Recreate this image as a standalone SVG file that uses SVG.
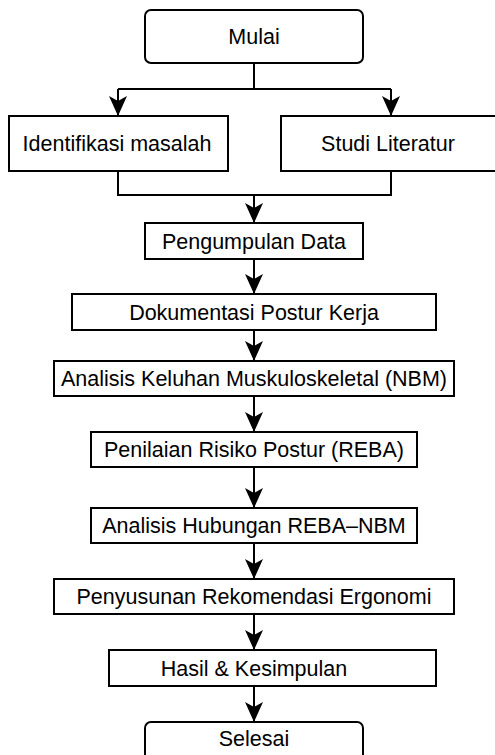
<svg xmlns="http://www.w3.org/2000/svg" width="495" height="755" viewBox="0 0 495 755">
<defs>
<marker id="arr" markerUnits="userSpaceOnUse" markerWidth="20" markerHeight="20" viewBox="0 0 20 20" refX="20" refY="10" orient="auto">
<path d="M0,1 L20,10 L0,19 L5,10 Z" fill="#000"/>
</marker>
<style>
.box{fill:#fff;stroke:#000;stroke-width:2}
.t{font-family:"Liberation Sans",Arial,sans-serif;font-size:21.5px;fill:#000;text-anchor:middle}
.c{fill:none;stroke:#000;stroke-width:2}
</style>
</defs>
<rect width="495" height="755" fill="#fff"/>
<g id="connectors">
<path class="c" d="M254,63 V89 M118,89 H391"/>
<path class="c" d="M118,89 V116" marker-end="url(#arr)"/>
<path class="c" d="M391,89 V116" marker-end="url(#arr)"/>
<path class="c" d="M118,171 V195 H391 V171"/>
<path class="c" d="M254,195 V223" marker-end="url(#arr)"/>
<path class="c" d="M254,259 V294" marker-end="url(#arr)"/>
<path class="c" d="M254,330 V361" marker-end="url(#arr)"/>
<path class="c" d="M254,396 V432" marker-end="url(#arr)"/>
<path class="c" d="M254,467 V508" marker-end="url(#arr)"/>
<path class="c" d="M254,543 V579" marker-end="url(#arr)"/>
<path class="c" d="M254,614 V650" marker-end="url(#arr)"/>
<path class="c" d="M254,686 V722" marker-end="url(#arr)"/>
</g>
<g id="mulai"><rect class="box" x="145" y="10" width="218" height="53" rx="6"/><text class="t" x="254" y="44">Mulai</text></g>
<g id="identifikasi"><rect class="box" x="9" y="116" width="219" height="55"/><text class="t" x="117" y="151">Identifikasi masalah</text></g>
<g id="studi"><rect class="box" x="281" y="116" width="216" height="55"/><text class="t" x="388" y="151">Studi Literatur</text></g>
<g id="pengumpulan"><rect class="box" x="145" y="223" width="218" height="36"/><text class="t" x="254" y="248.5">Pengumpulan Data</text></g>
<g id="dokumentasi"><rect class="box" x="72" y="294" width="364" height="36"/><text class="t" x="254" y="319.5">Dokumentasi Postur Kerja</text></g>
<g id="nbm"><rect class="box" x="54" y="361" width="400" height="35"/><text class="t" x="254" y="386">Analisis Keluhan Muskuloskeletal (NBM)</text></g>
<g id="reba"><rect class="box" x="91" y="432" width="326" height="35"/><text class="t" x="254" y="457">Penilaian Risiko Postur (REBA)</text></g>
<g id="hubungan"><rect class="box" x="91" y="508" width="326" height="35"/><text class="t" x="254" y="533">Analisis Hubungan REBA–NBM</text></g>
<g id="rekomendasi"><rect class="box" x="54" y="579" width="400" height="35"/><text class="t" x="254" y="604">Penyusunan Rekomendasi Ergonomi</text></g>
<g id="hasil"><rect class="box" x="109" y="650" width="327" height="36"/><text class="t" x="254" y="675.5">Hasil &amp; Kesimpulan</text></g>
<g id="selesai"><rect class="box" x="145" y="722" width="218" height="45" rx="6"/><text class="t" x="254" y="746">Selesai</text></g>
</svg>
